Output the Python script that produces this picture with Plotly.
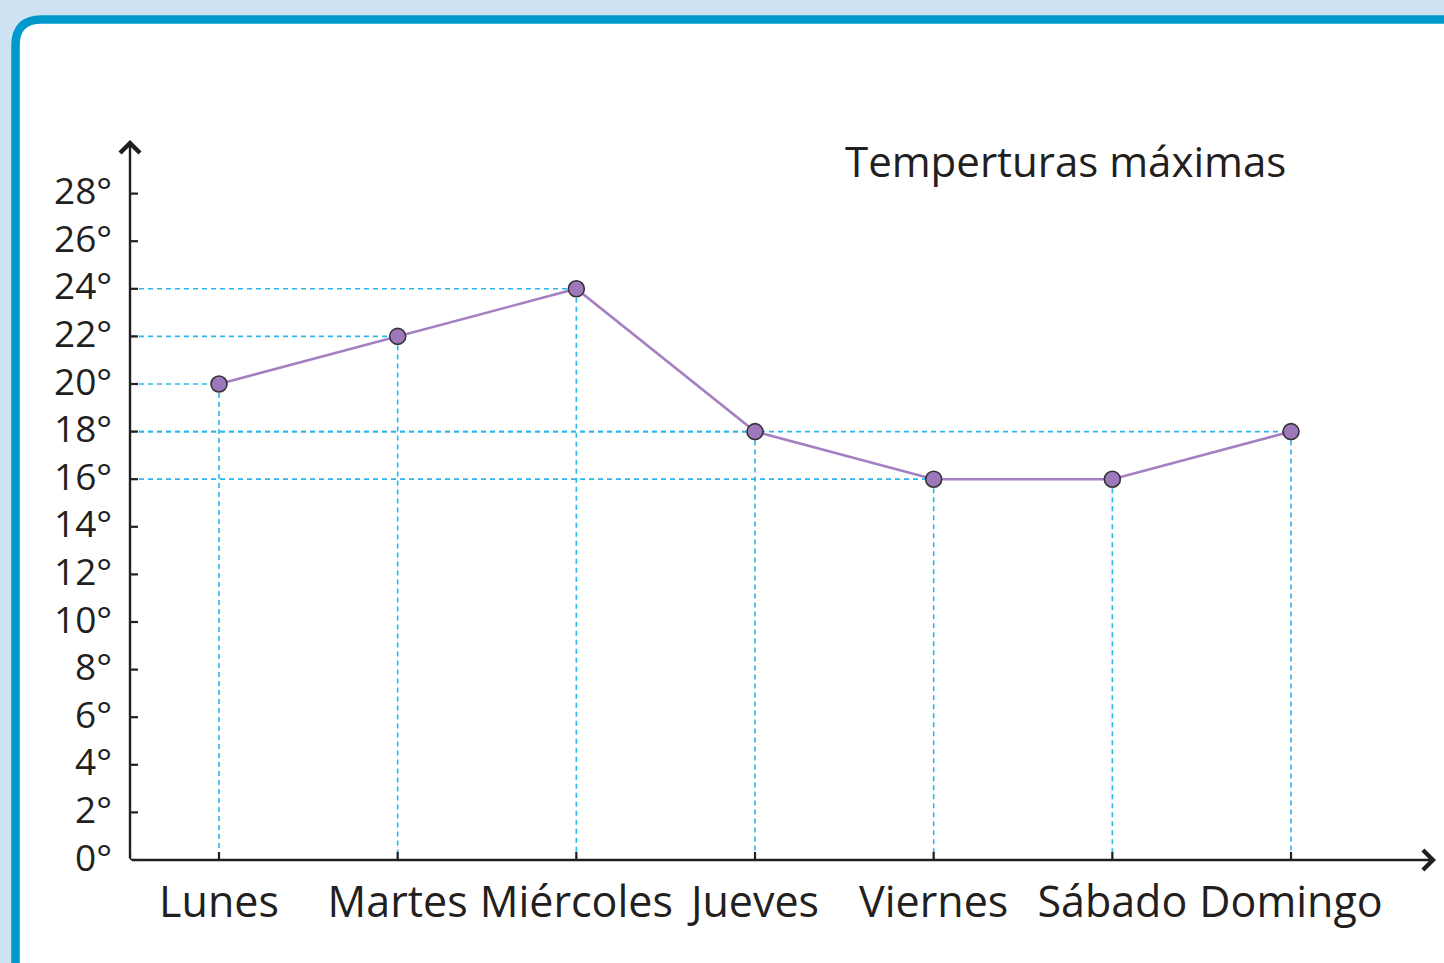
import plotly.graph_objects as go

# ---- data ----
days = ["Lunes", "Martes", "Miércoles", "Jueves", "Viernes", "Sábado", "Domingo"]
temps = [20, 22, 24, 18, 16, 16, 18]
ytick_vals = list(range(0, 29, 2))
ytick_text = [f"{v}°" for v in ytick_vals]
title_text = "Temperturas máximas"

# ---- layout geometry ----
W, H = 1444, 963
L, R, T, B = 130, 8, 140, 103
pw, ph = W - L - R, H - T - B
cat0_px, cat_dx = 219, 178.67
px_per_deg = 23.8
xmin = (L - cat0_px) / cat_dx
xmax = (W - R - cat0_px) / cat_dx
ymin, ymax = 0, ph / px_per_deg

def xp(px):
    return (px - L) / pw

def yp(py):
    return (H - B - py) / ph

ink = "#231f20"
dash_col = "#2cb6ec"
font_family = "Open Sans, Noto Sans, sans-serif"

xs = list(range(len(days)))
fig = go.Figure()

# dashed guide lines
for i, v in zip(xs, temps):
    fig.add_trace(go.Scatter(x=[xmin, i], y=[v, v], mode="lines",
                             line=dict(color=dash_col, width=1.6, dash="5px,4px"),
                             hoverinfo="skip", showlegend=False))
    fig.add_trace(go.Scatter(x=[i, i], y=[v, ymin], mode="lines",
                             line=dict(color=dash_col, width=1.6, dash="5px,4px"),
                             hoverinfo="skip", showlegend=False))

# main line
fig.add_trace(go.Scatter(x=xs, y=temps, mode="lines+markers",
                         line=dict(color="#a47fc2", width=2.6),
                         marker=dict(size=16, color="#9f78bb",
                                     line=dict(color="#333333", width=1.6)),
                         showlegend=False, cliponaxis=False))

shapes = []
# frame: rounded border
r = 26
bx, by = 15.5, 19.5
path = (f"M {xp(bx)},{yp(H + 40)} L {xp(bx)},{yp(by + r)} "
        f"Q {xp(bx)},{yp(by)} {xp(bx + r)},{yp(by)} "
        f"L {xp(W + 40)},{yp(by)} L {xp(W + 40)},{yp(H + 40)} Z")
shapes.append(dict(type="path", xref="paper", yref="paper", path=path,
                   fillcolor="white", line=dict(color="#0099cc", width=8.5),
                   layer="below"))

# y ticks (crossing)
for v in ytick_vals:
    shapes.append(dict(type="line", xref="x", yref="y", xsizemode="pixel",
                       xanchor=xmin, x0=-8, x1=8, y0=v, y1=v,
                       line=dict(color=ink, width=2.2)))
# x ticks (crossing)
for i in [xmin] + xs:
    shapes.append(dict(type="line", xref="x", yref="y", ysizemode="pixel",
                       yanchor=0, y0=-8, y1=8, x0=i, x1=i,
                       line=dict(color=ink, width=2.2)))

annotations = [
    # y axis with arrow
    dict(x=xmin, y=ymax, xref="x", yref="y", ax=0, ay=ph, axref="pixel",
         ayref="pixel", showarrow=True, arrowhead=4, arrowsize=1.6,
         arrowwidth=2.4, arrowcolor=ink, text=""),
    # x axis with arrow
    dict(x=xmax, y=0, xref="x", yref="y", ax=-pw, ay=0, showarrow=True,
         arrowhead=4, arrowsize=1.6, arrowwidth=2.4, arrowcolor=ink, text=""),
    dict(x=xp(1065), y=yp(160), xref="paper", yref="paper", text=title_text,
         showarrow=False, xanchor="center", yanchor="middle",
         font=dict(family=font_family, size=42, color=ink)),
]
# y tick labels as annotations (fine vertical control)
for v, t in zip(ytick_vals, ytick_text):
    annotations.append(dict(x=xmin, y=v, xref="x", yref="y", text=t,
                            showarrow=False, xanchor="right", yanchor="middle",
                            xshift=-16, yshift=4,
                            font=dict(family=font_family, size=37, color=ink)))

fig.update_layout(
    width=W, height=H,
    margin=dict(l=L, r=R, t=T, b=B),
    paper_bgcolor="#cde3f1",
    plot_bgcolor="rgba(0,0,0,0)",
    shapes=shapes,
    annotations=annotations,
    xaxis=dict(range=[xmin, xmax], tickvals=xs, ticktext=days, showgrid=False,
               zeroline=False, showline=False, ticks="", ticklabelstandoff=13,
               tickfont=dict(family=font_family, size=43, color=ink)),
    yaxis=dict(range=[ymin, ymax], showgrid=False, zeroline=False,
               showline=False, ticks="", showticklabels=False),
)

fig.write_html("out.html", config={"displayModeBar": False},
               post_script="document.body.style.margin='0';document.body.style.overflow='hidden';")
